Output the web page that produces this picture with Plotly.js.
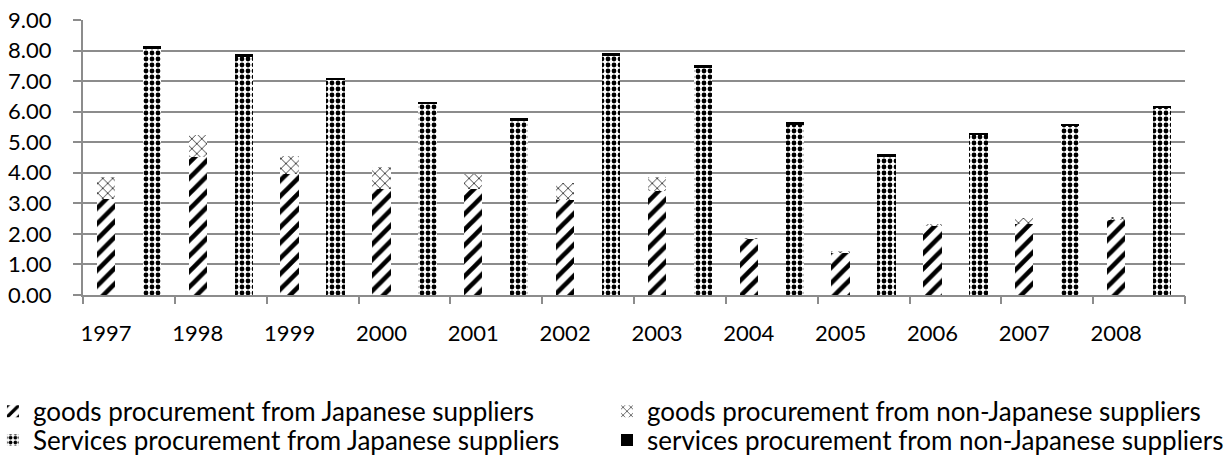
<!DOCTYPE html>
<html>
<head>
<meta charset="utf-8">
<script src="https://cdn.plot.ly/plotly-3.0.1.min.js"></script>
<style>
  html, body { margin: 0; padding: 0; background: #ffffff; }
  #chart { width: 1227px; height: 456px; }
</style>
</head>
<body>
<div id="chart"></div>
<script>
// ---- data ----
const years = ['1997', '1998', '1999', '2000', '2001', '2002', '2003', '2004', '2005', '2006', '2007', '2008'];
const goodsJapanese       = [3.15, 4.52, 3.97, 3.48, 3.48, 3.10, 3.40, 1.82, 1.38, 2.26, 2.31, 2.44];
const goodsNonJapanese    = [0.71, 0.73, 0.59, 0.71, 0.49, 0.58, 0.47, 0.06, 0.05, 0.05, 0.22, 0.11];
const servicesJapanese    = [8.06, 7.79, 7.04, 6.24, 5.71, 7.82, 7.42, 5.58, 4.51, 5.23, 5.54, 6.13];
const servicesNonJapanese = [0.08, 0.11, 0.07, 0.08, 0.09, 0.10, 0.10, 0.08, 0.09, 0.08, 0.07, 0.05];
const seriesNames = [
  'goods procurement from Japanese suppliers',
  'goods procurement from non-Japanese suppliers',
  'Services procurement from Japanese suppliers',
  'services procurement from non-Japanese suppliers'
];

// each year occupies two slots: goods bar (slot 2i) and services bar (slot 2i+1)
const goodsSlot    = years.map((y, i) => 2 * i);
const servicesSlot = years.map((y, i) => 2 * i + 1);
const boundaries   = [];
for (let i = 0; i <= years.length; i++) boundaries.push(2 * i - 0.5);

const FONT = 'Lato, "Liberation Sans", sans-serif';
const GRID = '#8c8c8c';

const traces = [
  {
    type: 'bar', name: seriesNames[0], x: goodsSlot, y: goodsJapanese, legend: 'legend',
    marker: { color: '#ffffff', line: { width: 0 },
      pattern: { shape: '/', fgcolor: '#000000', bgcolor: '#ffffff', size: 11, solidity: 0.42, fillmode: 'replace' } }
  },
  {
    type: 'bar', name: seriesNames[1], x: goodsSlot, y: goodsNonJapanese, legend: 'legend2',
    marker: { color: '#ffffff', line: { width: 0 },
      pattern: { shape: 'x', fgcolor: '#222222', bgcolor: '#ffffff', size: 7, solidity: 0.22, fillmode: 'replace' } }
  },
  {
    type: 'bar', name: seriesNames[2], x: servicesSlot, y: servicesJapanese, legend: 'legend3',
    marker: { color: '#ffffff', line: { width: 0 },
      pattern: { shape: '.', fgcolor: '#000000', bgcolor: '#ffffff', size: 6, solidity: 0.5, fillmode: 'replace' } }
  },
  {
    type: 'bar', name: seriesNames[3], x: servicesSlot, y: servicesNonJapanese, legend: 'legend4',
    marker: { color: '#000000', line: { width: 0 } }
  },
  // invisible helper trace on the overlay axis that carries the boundary tick marks
  {
    type: 'scatter', x: [boundaries[0], boundaries[boundaries.length - 1]], y: [0, 0], xaxis: 'x2',
    mode: 'markers', marker: { opacity: 0 }, showlegend: false, hoverinfo: 'skip'
  }
];

function legendAt(x, y) {
  return {
    x: x, y: y, xanchor: 'left', yanchor: 'middle', orientation: 'v', traceorder: 'normal',
    bgcolor: 'rgba(0,0,0,0)', borderwidth: 0,
    font: { family: FONT, size: 26, color: '#000000' }
  };
}

const layout = {
  width: 1227, height: 456,
  paper_bgcolor: '#ffffff', plot_bgcolor: '#ffffff',
  margin: { l: 83, r: 42, t: 20, b: 161, autoexpand: false },
  barmode: 'stack', bargap: 0.6,
  showlegend: true,
  font: { family: FONT, size: 22, color: '#000000' },
  xaxis: {
    type: 'linear', range: [boundaries[0], boundaries[boundaries.length - 1]],
    tickmode: 'array', tickvals: goodsSlot, ticktext: years,
    ticks: '', showgrid: false, zeroline: false,
    showline: true, linecolor: GRID, linewidth: 2,
    ticklabelstandoff: 18,
    tickfont: { family: FONT, size: 22, color: '#000000' }
  },
  xaxis2: {
    type: 'linear', overlaying: 'x', matches: 'x', anchor: 'y', side: 'bottom',
    range: [boundaries[0], boundaries[boundaries.length - 1]],
    tickmode: 'array', tickvals: boundaries, ticks: 'outside', ticklen: 8, tickwidth: 2, tickcolor: GRID,
    showticklabels: false, showgrid: false, zeroline: false, showline: false
  },
  yaxis: {
    range: [0, 9], dtick: 1, tick0: 0, tickformat: '.2f',
    showgrid: true, gridcolor: GRID, gridwidth: 2,
    zeroline: false, showline: true, linecolor: GRID, linewidth: 2,
    ticks: 'outside', ticklen: 8, tickwidth: 2, tickcolor: GRID,
    ticklabelstandoff: 17,
    tickfont: { family: FONT, size: 22, color: '#000000' }
  },
  legend:  legendAt(-0.0817, -0.423),
  legend2: legendAt(0.4755, -0.423),
  legend3: legendAt(-0.0817, -0.528),
  legend4: legendAt(0.4755, -0.528)
};

Plotly.newPlot('chart', traces, layout, { staticPlot: true, displayModeBar: false });
</script>
</body>
</html>
